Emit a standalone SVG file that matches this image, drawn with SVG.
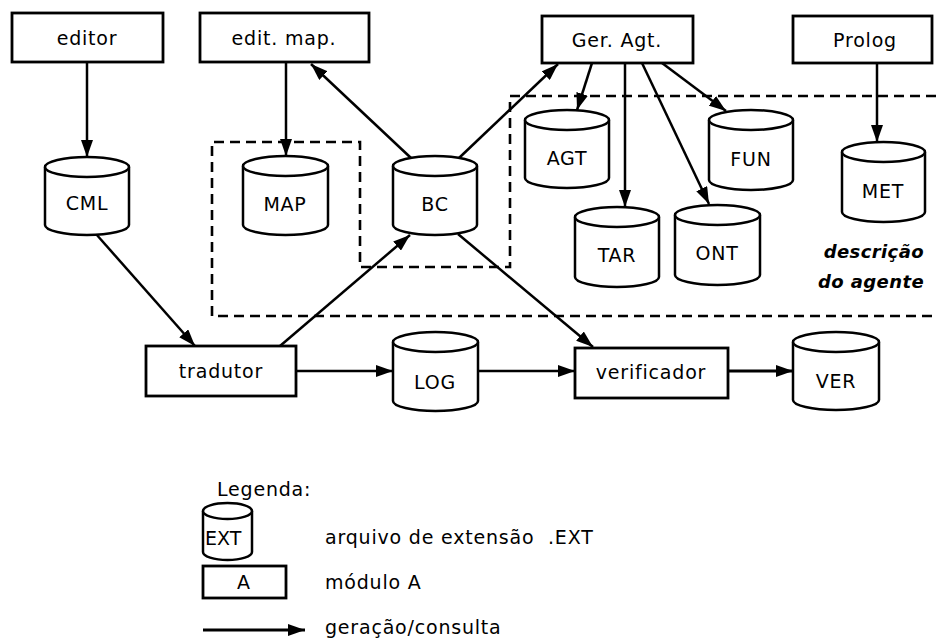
<svg xmlns="http://www.w3.org/2000/svg" width="936" height="641" viewBox="0 0 936 641">
<style>
.box{fill:#fff;stroke:#000;stroke-width:2.8}
.cyl{fill:#fff;stroke:#000;stroke-width:2.5}
.t{font-family:"DejaVu Sans",sans-serif;font-size:19px;fill:#000;text-anchor:middle;letter-spacing:0.8px}
.l{font-family:"DejaVu Sans",sans-serif;font-size:19px;fill:#000;letter-spacing:0.8px}
.it{font-family:"DejaVu Sans",sans-serif;font-size:18px;font-style:italic;font-weight:bold;fill:#000;text-anchor:end;letter-spacing:0.4px}
.c{fill:none;stroke:#000;stroke-width:2.5;marker-end:url(#ah)}
.dash{fill:none;stroke:#000;stroke-width:2.6;stroke-dasharray:10 6}
</style>
<defs>
<marker id="ah" markerUnits="userSpaceOnUse" markerWidth="17" markerHeight="12" refX="17" refY="6" orient="auto">
<path d="M0,0 L17,6 L0,12 z" fill="#000"/>
</marker>
</defs>
<rect width="936" height="641" fill="#fff"/>

<g id="region">
<path class="dash" d="M936,96 L510,96 L510,267 L360,267 L360,142 L212,142 L212,316 L936,316"/>
</g>

<g id="connectors">
<path class="c" d="M87,62 L87,157"/>
<path class="c" d="M286,62 L286,156"/>
<path class="c" d="M411,158 L311,64"/>
<path class="c" d="M459,158 L558,64"/>
<path class="c" d="M592,63 L577,110"/>
<path class="c" d="M625,63 L625,207"/>
<path class="c" d="M642,63 L709,204"/>
<path class="c" d="M662,63 L726,111"/>
<path class="c" d="M877,63 L877,142"/>
<path class="c" d="M96,234 L195,346"/>
<path class="c" d="M280,346 L410,235"/>
<path class="c" d="M458,234 L593,347"/>
<path class="c" d="M296,371 L393,371"/>
<path class="c" d="M478,371 L575,371"/>
<path class="c" style="stroke-width:3.2" d="M728,371 L793,371"/>
</g>

<g id="editor"><rect class="box" x="12" y="13" width="151" height="49"/><text class="t" x="87" y="45">editor</text></g>
<g id="editmap"><rect class="box" x="200" y="13" width="169" height="49"/><text class="t" x="284" y="45">edit. map.</text></g>
<g id="geragt"><rect class="box" x="542" y="16" width="151" height="47"/><text class="t" x="617" y="47">Ger. Agt.</text></g>
<g id="prolog"><rect class="box" x="793" y="16" width="139" height="47"/><text class="t" x="865" y="47">Prolog</text></g>
<g id="tradutor"><rect class="box" x="146" y="346" width="150" height="50"/><text class="t" x="221" y="378">tradutor</text></g>
<g id="verificador"><rect class="box" x="575" y="348" width="153" height="50"/><text class="t" x="651" y="379">verificador</text></g>

<g id="CML"><path class="cyl" d="M45,167 L45,225 A42,10 0 0 0 129,225 L129,167"/><ellipse class="cyl" cx="87" cy="167" rx="42" ry="10"/><text class="t" x="87" y="210">CML</text></g>
<g id="MAP"><path class="cyl" d="M243,166 L243,225 A42.5,10 0 0 0 328,225 L328,166"/><ellipse class="cyl" cx="285.5" cy="166" rx="42.5" ry="10"/><text class="t" x="285" y="211">MAP</text></g>
<g id="BC"><path class="cyl" d="M393,166 L393,225 A42,10 0 0 0 477,225 L477,166"/><ellipse class="cyl" cx="435" cy="166" rx="42" ry="10"/><text class="t" x="435" y="211">BC</text></g>
<g id="AGT"><path class="cyl" d="M525,120 L525,178 A42,10 0 0 0 609,178 L609,120"/><ellipse class="cyl" cx="567" cy="120" rx="42" ry="10"/><text class="t" x="567" y="165">AGT</text></g>
<g id="FUN"><path class="cyl" d="M709,120 L709,180 A42,10 0 0 0 793,180 L793,120"/><ellipse class="cyl" cx="751" cy="120" rx="42" ry="10"/><text class="t" x="751" y="166">FUN</text></g>
<g id="MET"><path class="cyl" d="M842,152 L842,212 A41.5,10 0 0 0 925,212 L925,152"/><ellipse class="cyl" cx="883.5" cy="152" rx="41.5" ry="10"/><text class="t" x="883" y="198">MET</text></g>
<g id="TAR"><path class="cyl" d="M575,217 L575,277 A42,10 0 0 0 659,277 L659,217"/><ellipse class="cyl" cx="617" cy="217" rx="42" ry="10"/><text class="t" x="617" y="262">TAR</text></g>
<g id="ONT"><path class="cyl" d="M675,215 L675,275 A42.5,10 0 0 0 760,275 L760,215"/><ellipse class="cyl" cx="717.5" cy="215" rx="42.5" ry="10"/><text class="t" x="717" y="260">ONT</text></g>
<g id="LOG"><path class="cyl" d="M393,342 L393,401 A42.5,10 0 0 0 478,401 L478,342"/><ellipse class="cyl" cx="435.5" cy="342" rx="42.5" ry="10"/><text class="t" x="435" y="389">LOG</text></g>
<g id="VER"><path class="cyl" d="M793,342 L793,400 A43,10 0 0 0 879,400 L879,342"/><ellipse class="cyl" cx="836" cy="342" rx="43" ry="10"/><text class="t" x="836" y="388">VER</text></g>

<g id="desc">
<text class="it" x="924" y="258">descrição</text>
<text class="it" x="924" y="288">do agente</text>
</g>

<g id="legend">
<text class="l" x="217" y="496">Legenda:</text>
<path class="cyl" d="M203,511 L203,552 A24.5,8 0 0 0 252,552 L252,511"/><ellipse class="cyl" cx="227.5" cy="511" rx="24.5" ry="8"/>
<text class="l" x="205" y="545" style="letter-spacing:0">EXT</text>
<text class="l" x="325" y="544" xml:space="preserve">arquivo de extensão  .EXT</text>
<rect class="box" x="203" y="566" width="83" height="32"/>
<text class="t" x="244" y="589">A</text>
<text class="l" x="325" y="589">módulo A</text>
<path class="c" style="stroke-width:3.2" d="M203,630 L305,630"/>
<text class="l" x="325" y="634">geração/consulta</text>
</g>
</svg>
